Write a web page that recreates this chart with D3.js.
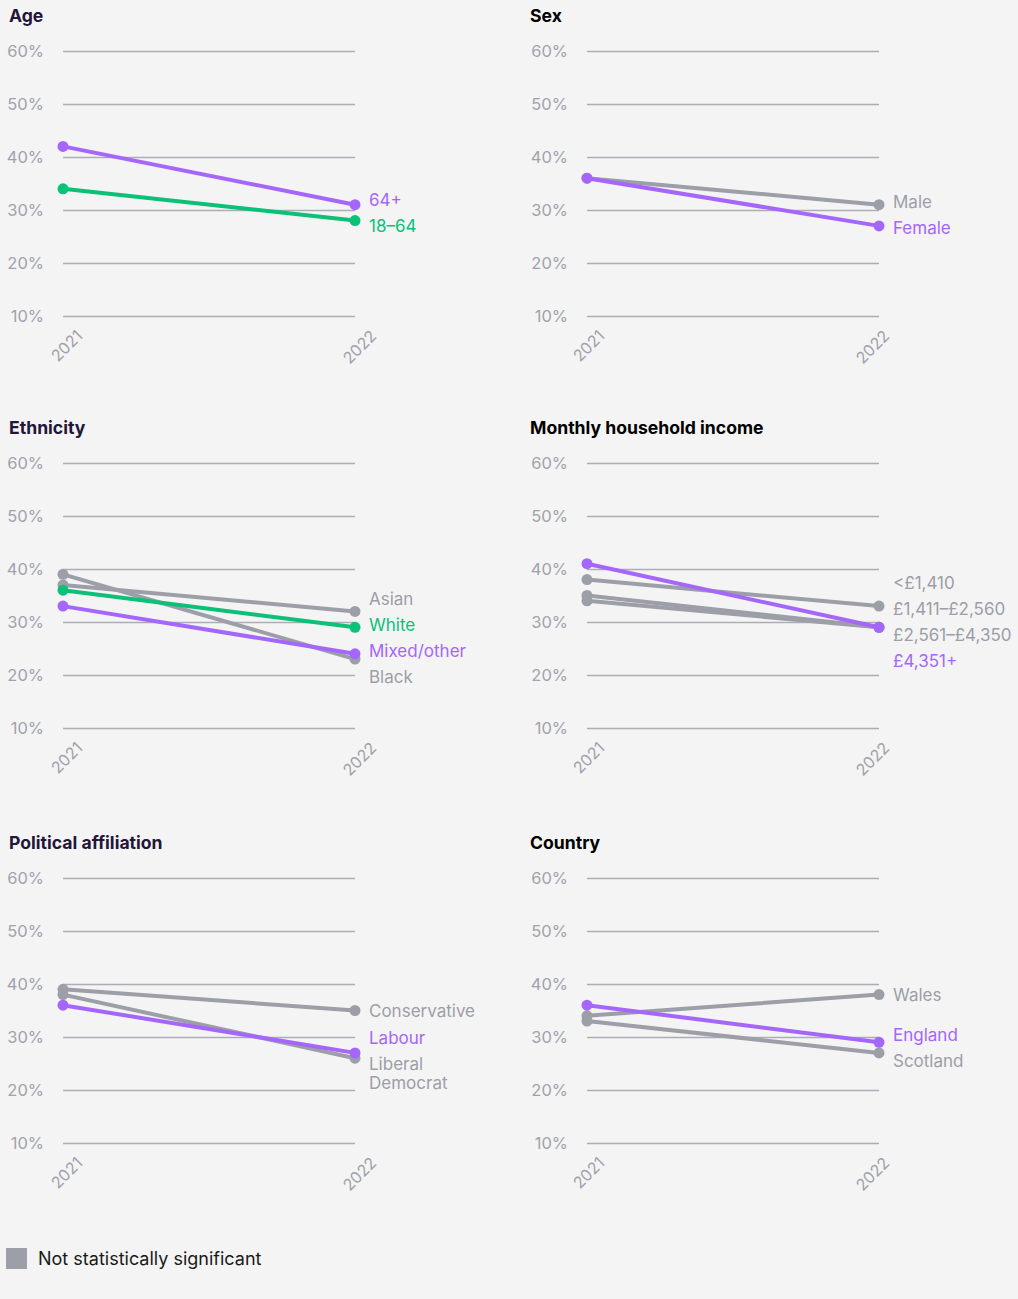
<!DOCTYPE html>
<html>
<head>
<meta charset="utf-8">
<script src="https://cdn.jsdelivr.net/npm/d3@7"></script>
<style>
  body { margin: 0; background: #f4f4f4; }
  svg { display: block; font-family: Inter, "Noto Sans", sans-serif; }
</style>
</head>
<body>
<div id="chart"></div>
<script>
// data
const years = ["2021", "2022"];
const yTicks = [10, 20, 30, 40, 50, 60];

const ageNames = ["64+", "18–64"];
const age2021 = [42, 34];
const age2022 = [31, 28];
const ageKind = ["up", "down"];

const sexNames = ["Male", "Female"];
const sex2021 = [36, 36];
const sex2022 = [31, 27];
const sexKind = ["ns", "up"];

const ethNames = ["Asian", "White", "Mixed/other", "Black"];
const eth2021 = [37, 36, 33, 39];
const eth2022 = [32, 29, 24, 23];
const ethKind = ["ns", "down", "up", "ns"];

const incNames = ["<£1,410", "£1,411–£2,560", "£2,561–£4,350", "£4,351+"];
const inc2021 = [38, 35, 34, 41];
const inc2022 = [33, 29, 29, 29];
const incKind = ["ns", "ns", "ns", "up"];

const polNames = ["Conservative", "Labour", "Liberal\nDemocrat"];
const pol2021 = [39, 36, 38];
const pol2022 = [35, 27, 26];
const polKind = ["ns", "up", "ns"];

const ctyNames = ["Wales", "England", "Scotland"];
const cty2021 = [34, 36, 33];
const cty2022 = [38, 29, 27];
const ctyKind = ["ns", "up", "ns"];

const legendText = "Not statistically significant";

function series(names, a, b, kind) {
    return names.map((n, i) => ({ name: n, values: [a[i], b[i]], kind: kind[i] }));
}

const panels = [
    { title: "Age", col: 0, row: 0, data: series(ageNames, age2021, age2022, ageKind) },
    { title: "Sex", col: 1, row: 0, data: series(sexNames, sex2021, sex2022, sexKind) },
    { title: "Ethnicity", col: 0, row: 1, data: series(ethNames, eth2021, eth2022, ethKind) },
    { title: "Monthly household income", col: 1, row: 1, data: series(incNames, inc2021, inc2022, incKind) },
    { title: "Political affiliation", col: 0, row: 2, data: series(polNames, pol2021, pol2022, polKind) },
    { title: "Country", col: 1, row: 2, data: series(ctyNames, cty2021, cty2022, ctyKind) }
];

const colour = { up: "#a566fb", down: "#0bc178", ns: "#9c9ea8" };
const tickGrey = "#a1a2ad";
const gridGrey = "#abadb9";
const titleColour = ["#231638", "#000000"];

const colX = [63, 587];
const titleX = [9, 530];
const rowTop = [51, 463, 878];
const plotW = 292;
const plotH = 265;
const lineGap = 26;   // label spacing
const subLine = 19;   // second line of a wrapped label
// nudge of the rotated year labels, per column
const yearShift = [[20, 22], [18, 11]];

const svg = d3.select("#chart")
    .append("svg")
    .attr("width", 1018)
    .attr("height", 1299);

svg.append("rect").attr("width", 1018).attr("height", 1299).attr("fill", "#f4f4f4");

// stack end labels so they don't overlap, keeping each group centred on its points
function dodge(items) {
    items.sort((a, b) => a.target - b.target);
    let groups = items.map(d => ({ items: [d] }));
    const place = g => {
        let off = 0;
        const offs = g.items.map((d, i) => {
            if (i > 0) off += (g.items[i - 1].h + d.h) / 2;
            return off;
        });
        const shift = d3.mean(g.items, d => d.target) - d3.mean(offs);
        g.items.forEach((d, i) => d.y = offs[i] + shift);
    };
    groups.forEach(place);
    let merged = true;
    while (merged) {
        merged = false;
        for (let i = 1; i < groups.length; i++) {
            const a = groups[i - 1].items[groups[i - 1].items.length - 1];
            const b = groups[i].items[0];
            if (b.y - b.h / 2 < a.y + a.h / 2 - 0.01) {
                groups[i - 1].items = groups[i - 1].items.concat(groups[i].items);
                groups.splice(i, 1);
                place(groups[i - 1]);
                merged = true;
                break;
            }
        }
    }
}

panels.forEach(p => {
    const x0 = colX[p.col];
    const top = rowTop[p.row];

    const g = svg.append("g").attr("transform", `translate(${x0}, ${top})`);

    const x = d3.scalePoint().domain(years).range([0, plotW]);
    const y = d3.scaleLinear().domain([10, 60]).range([plotH, 0]);

    svg.append("text")
        .attr("x", titleX[p.col])
        .attr("y", top - 29)
        .style("font-size", "17.6px")
        .style("font-weight", "700")
        .style("fill", titleColour[p.col])
        .text(p.title);

    // grid + y labels
    const yAxis = g.append("g")
        .call(d3.axisLeft(y).tickValues(yTicks).tickSize(-plotW).tickPadding(19).tickFormat(d => d + "%"));
    yAxis.select(".domain").remove();
    yAxis.selectAll(".tick line").attr("stroke", gridGrey).attr("stroke-width", 1.5);
    yAxis.selectAll(".tick text")
        .attr("dy", "0.36em")
        .style("font-size", "16.5px")
        .style("font-family", "Inter, sans-serif")
        .style("fill", tickGrey);

    // x labels, rotated
    const xAxis = g.append("g")
        .attr("transform", `translate(0, ${plotH})`)
        .call(d3.axisBottom(x).tickSize(0));
    xAxis.select(".domain").remove();
    xAxis.selectAll(".tick text")
        .attr("x", 0).attr("y", 0).attr("dy", 0)
        .attr("text-anchor", "end")
        .attr("transform", (d, i) => `translate(${yearShift[p.col][i]}, 21) rotate(-45)`)
        .style("font-size", "16px")
        .style("font-family", "Inter, sans-serif")
        .style("fill", tickGrey);

    const line = d3.line().x((d, i) => x(years[i])).y(d => y(d));
    const ordered = p.data.filter(d => d.kind === "ns").concat(p.data.filter(d => d.kind !== "ns"));

    ordered.forEach(s => {
        g.append("path")
            .attr("d", line(s.values))
            .attr("fill", "none")
            .attr("stroke", colour[s.kind])
            .attr("stroke-width", 4)
            .attr("stroke-linecap", "round");
        g.selectAll(null)
            .data(s.values)
            .enter().append("circle")
            .attr("cx", (d, i) => x(years[i]))
            .attr("cy", d => y(d))
            .attr("r", 5.5)
            .attr("fill", colour[s.kind]);
    });

    // end labels
    const labels = p.data.map(s => {
        const lines = s.name.split("\n");
        return { s: s, lines: lines, target: y(s.values[1]), h: lineGap + (lines.length - 1) * subLine };
    });
    dodge(labels);

    labels.forEach(l => {
        const t = g.append("text")
            .attr("x", x(years[1]) + 14)
            .attr("y", l.y - (l.lines.length - 1) * subLine / 2)
            .style("font-size", "17px")
            .style("fill", colour[l.s.kind]);
        l.lines.forEach((txt, i) => {
            t.append("tspan")
                .attr("x", x(years[1]) + 14)
                .attr("dy", i === 0 ? "0.36em" : subLine)
                .text(txt);
        });
    });
});

// legend
svg.append("rect")
    .attr("x", 6).attr("y", 1248)
    .attr("width", 21).attr("height", 21)
    .attr("fill", colour.ns);
svg.append("text")
    .attr("x", 38).attr("y", 1258.5)
    .attr("dy", "0.36em")
    .style("font-size", "18px")
    .style("fill", "#1a1a1a")
    .text(legendText);
</script>
</body>
</html>
